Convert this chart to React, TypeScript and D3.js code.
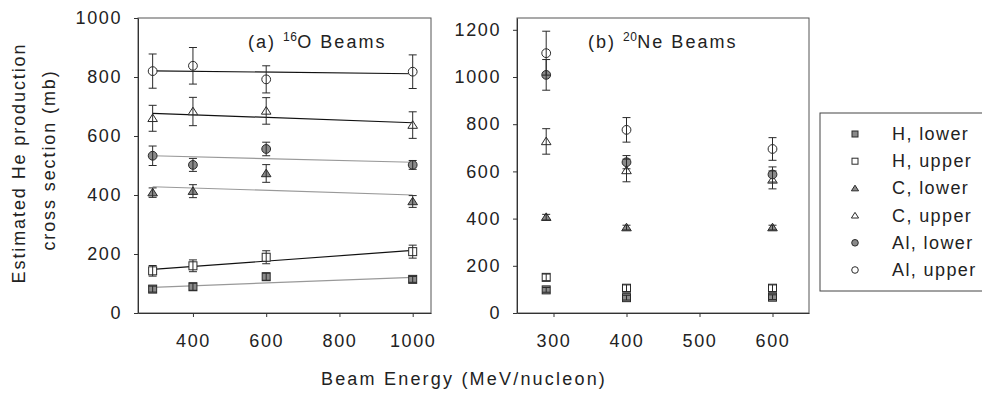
import React, { useEffect, useRef } from "react";
import * as d3 from "d3";

// beam energies (MeV/nucleon)
const energiesO = [290, 400, 600, 1000];
const energiesNe = [290, 400, 600];
const fitEnergies = [290, 1000];

const seriesNames = ["H, lower", "H, upper", "C, lower", "C, upper", "Al, lower", "Al, upper"];
const seriesShapes = ["square", "square", "triangle", "triangle", "circle", "circle"];
const seriesFilled = [true, false, true, false, true, false];

// (a) 16O beams
const oHLower = [81, 89, 123, 114];
const oHUpper = [143, 160, 189, 208];
const oCLower = [408, 413, 473, 378];
const oCUpper = [660, 683, 685, 637];
const oAlLower = [533, 502, 556, 502];
const oAlUpper = [820, 838, 792, 818];
const oHLowerErr = [10, 12, 12, 10];
const oHUpperErr = [18, 20, 22, 22];
const oCLowerErr = [16, 22, 30, 20];
const oCUpperErr = [44, 48, 45, 45];
const oAlLowerErr = [33, 22, 23, 15];
const oAlUpperErr = [58, 62, 46, 57];

// linear fits through the 16O points (value at 290 and 1000)
const fitHLower = [87, 121];
const fitHUpper = [148, 212];
const fitCLower = [428, 400];
const fitCUpper = [677, 645];
const fitAlLower = [533, 511];
const fitAlUpper = [821, 811];

// (b) 20Ne beams
const neHLower = [98, 65, 67];
const neHUpper = [151, 105, 105];
const neCLower = [406, 362, 362];
const neCUpper = [727, 604, 564];
const neAlLower = [1009, 639, 587];
const neAlUpper = [1101, 776, 695];
const neHLowerErr = [10, 10, 10];
const neHUpperErr = [14, 14, 14];
const neCLowerErr = [12, 10, 10];
const neCUpperErr = [54, 48, 38];
const neAlLowerErr = [65, 28, 32];
const neAlUpperErr = [93, 52, 48];

const xTicksO = [400, 600, 800, 1000];
const yTicksO = [0, 200, 400, 600, 800, 1000];
const xTicksNe = [300, 400, 500, 600];
const yTicksNe = [0, 200, 400, 600, 800, 1000, 1200];

const FONT = "'Liberation Sans', Arial, Helvetica, sans-serif";
const FILL_GRAY = "#8a8a8a";
const INK = "#2a2a2a";

const W = 982;
const H = 405;

function drawMarker(g, shape, filled, x, y, s) {
  const fill = filled ? FILL_GRAY : "#fff";
  if (shape === "circle") {
    g.append("circle").attr("cx", x).attr("cy", y).attr("r", s * 0.55)
      .attr("fill", fill).attr("stroke", INK).attr("stroke-width", 1);
  } else if (shape === "square") {
    g.append("rect").attr("x", x - s / 2).attr("y", y - s / 2).attr("width", s).attr("height", s)
      .attr("fill", fill).attr("stroke", INK).attr("stroke-width", 1);
  } else {
    const h = s * 0.9;
    g.append("path")
      .attr("d", `M${x},${y - h * 0.6}L${x + s * 0.6},${y + h * 0.45}L${x - s * 0.6},${y + h * 0.45}Z`)
      .attr("fill", fill).attr("stroke", INK).attr("stroke-width", 1);
  }
}

function drawPanel(svg, opts) {
  const { x, y, energies, values, errors, fits, xTicks, yTicks, title, sup, rest } = opts;
  const g = svg.append("g");

  // frame
  g.append("rect")
    .attr("x", x.range()[0]).attr("y", y.range()[1])
    .attr("width", x.range()[1] - x.range()[0])
    .attr("height", y.range()[0] - y.range()[1])
    .attr("fill", "none").attr("stroke", "#555").attr("stroke-width", 1);

  const xAxis = g.append("g")
    .attr("transform", `translate(0,${y.range()[0]})`)
    .call(d3.axisBottom(x).tickValues(xTicks).tickFormat(d3.format("d"))
      .tickSize(4).tickPadding(17).tickSizeOuter(0));
  const yAxis = g.append("g")
    .attr("transform", `translate(${x.range()[0]},0)`)
    .call(d3.axisLeft(y).tickValues(yTicks).tickFormat(d3.format("d"))
      .tickSize(4).tickPadding(12).tickSizeOuter(0));
  [xAxis, yAxis].forEach(a => {
    a.select(".domain").attr("stroke", "#333");
    a.selectAll("line").attr("stroke", "#333");
    a.selectAll("text")
      .attr("font-family", FONT).attr("font-size", 18)
      .attr("letter-spacing", "1.6px").attr("fill", "#222");
  });

  // fit lines
  if (fits) {
    fits.forEach((f, i) => {
      g.append("path")
        .datum(fitEnergies.map((e, k) => [e, f[k]]))
        .attr("d", d3.line().x(d => x(d[0])).y(d => y(d[1])))
        .attr("fill", "none")
        .attr("stroke", seriesFilled[i] ? "#999" : "#111")
        .attr("stroke-width", 1.2);
    });
  }

  // markers, then error bars drawn over them
  values.forEach((vals, i) => {
    vals.forEach((v, k) => {
      drawMarker(g, seriesShapes[i], seriesFilled[i], x(energies[k]), y(v), 8);
    });
  });
  values.forEach((vals, i) => {
    vals.forEach((v, k) => {
      const cx = x(energies[k]);
      const top = y(v + errors[i][k]);
      const bot = y(v - errors[i][k]);
      g.append("line").attr("x1", cx).attr("x2", cx).attr("y1", top).attr("y2", bot)
        .attr("stroke", INK).attr("stroke-width", 1);
      [top, bot].forEach(yy => {
        g.append("line").attr("x1", cx - 4).attr("x2", cx + 4).attr("y1", yy).attr("y2", yy)
          .attr("stroke", INK).attr("stroke-width", 1);
      });
    });
  });

  // panel title
  const t = g.append("text")
    .attr("x", title.x).attr("y", title.y)
    .attr("font-family", FONT).attr("font-size", 18)
    .attr("letter-spacing", "2px").attr("fill", "#222");
  t.append("tspan").text(title.text);
  t.append("tspan").attr("dy", -7).attr("font-size", 12).attr("letter-spacing", "0.5px").text(sup);
  t.append("tspan").attr("dy", 7).text(rest);
}

export default function App() {
  const ref = useRef(null);

  useEffect(() => {
    const svg = d3.select(ref.current);
    svg.selectAll("*").remove();

    const xO = d3.scaleLinear().domain([250, 1050]).range([138, 431]);
    const yO = d3.scaleLinear().domain([0, 1000]).range([313, 18]);
    const xNe = d3.scaleLinear().domain([250, 650]).range([517, 809]);
    const yNe = d3.scaleLinear().domain([0, 1250]).range([313, 18]);

    drawPanel(svg, {
      x: xO, y: yO, energies: energiesO,
      values: [oHLower, oHUpper, oCLower, oCUpper, oAlLower, oAlUpper],
      errors: [oHLowerErr, oHUpperErr, oCLowerErr, oCUpperErr, oAlLowerErr, oAlUpperErr],
      fits: [fitHLower, fitHUpper, fitCLower, fitCUpper, fitAlLower, fitAlUpper],
      xTicks: xTicksO, yTicks: yTicksO,
      title: { x: 248, y: 48, text: "(a) " }, sup: "16", rest: "O Beams",
    });
    drawPanel(svg, {
      x: xNe, y: yNe, energies: energiesNe,
      values: [neHLower, neHUpper, neCLower, neCUpper, neAlLower, neAlUpper],
      errors: [neHLowerErr, neHUpperErr, neCLowerErr, neCUpperErr, neAlLowerErr, neAlUpperErr],
      fits: null,
      xTicks: xTicksNe, yTicks: yTicksNe,
      title: { x: 588, y: 48, text: "(b) " }, sup: "20", rest: "Ne Beams",
    });

    // legend
    const lg = svg.append("g");
    lg.append("rect").attr("x", 820).attr("y", 113).attr("width", 180).attr("height", 178)
      .attr("fill", "#fff").attr("stroke", "#444").attr("stroke-width", 1);
    seriesNames.forEach((name, i) => {
      const yy = 134 + i * 27.2;
      drawMarker(lg, seriesShapes[i], seriesFilled[i], 855, yy, 6);
      lg.append("text").attr("x", 892).attr("y", yy + 6)
        .attr("font-family", FONT).attr("font-size", 18)
        .attr("letter-spacing", "1.4px").attr("fill", "#222").text(name);
    });

    // axis titles
    svg.append("text")
      .attr("transform", "translate(25,163) rotate(-90)")
      .attr("text-anchor", "middle")
      .attr("font-family", FONT).attr("font-size", 18)
      .attr("letter-spacing", "1.9px").attr("fill", "#222")
      .text("Estimated He production");
    svg.append("text")
      .attr("transform", "translate(55,160) rotate(-90)")
      .attr("text-anchor", "middle")
      .attr("font-family", FONT).attr("font-size", 18)
      .attr("letter-spacing", "1.9px").attr("fill", "#222")
      .text("cross section (mb)");
    svg.append("text")
      .attr("x", 464).attr("y", 385)
      .attr("text-anchor", "middle")
      .attr("font-family", FONT).attr("font-size", 18)
      .attr("letter-spacing", "2.2px").attr("fill", "#222")
      .text("Beam Energy (MeV/nucleon)");
  }, []);

  return (
    <svg
      ref={ref}
      width={W}
      height={H}
      style={{ position: "absolute", left: 0, top: 0, background: "#fff" }}
    />
  );
}
